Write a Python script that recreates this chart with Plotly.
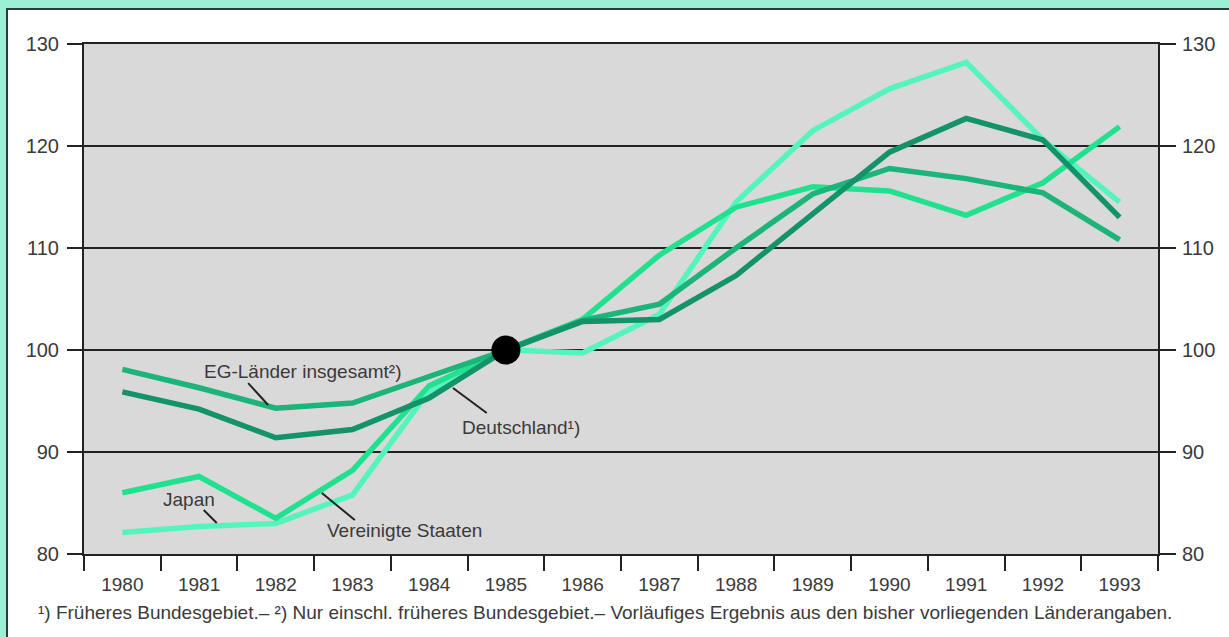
import plotly.graph_objects as go

years = list(range(1980, 1994))
deutschland = [95.9, 94.2, 91.4, 92.2, 95.3, 100.0, 102.8, 103.0, 107.3, 113.3, 119.4, 122.7, 120.6, 113.0]
eg_laender = [98.1, 96.3, 94.3, 94.8, 97.4, 100.0, 102.9, 104.5, 110.0, 115.3, 117.8, 116.8, 115.4, 110.8]
japan = [82.1, 82.7, 83.0, 85.8, 96.0, 100.0, 99.7, 103.5, 114.5, 121.5, 125.6, 128.2, 120.6, 114.5]
usa = [86.0, 87.6, 83.5, 88.2, 96.5, 100.0, 103.0, 109.3, 114.0, 116.0, 115.6, 113.2, 116.4, 121.9]

base_year = [1985]
base_value = [100]

y_ticks = [80, 90, 100, 110, 120, 130]
x_tick_labels = [str(y) for y in years]

footnote = ("¹) Früheres Bundesgebiet.– ²) Nur einschl. früheres Bundesgebiet.– "
            "Vorläufiges Ergebnis aus den bisher vorliegenden Länderangaben.")

W, H = 1229, 637
L, R, T, B = 84, 1158, 44, 554


def px2x(px):
    return (px - L) / (R - L)


def py2y(py):
    return (B - py) / (B - T)


FONT = "Liberation Sans, Arial, Helvetica, sans-serif"
TXT = "#3a3a3a"

fig = go.Figure()
series = [
    ("Japan", japan, "#55f4bd"),
    ("Vereinigte Staaten", usa, "#22e18e"),
    ("EG-Länder insgesamt", eg_laender, "#1cb479"),
    ("Deutschland", deutschland, "#14926a"),
]
for name, vals, col in series:
    fig.add_trace(go.Scatter(x=years, y=vals, mode="lines", name=name,
                             line=dict(color=col, width=5.5), showlegend=False))

fig.add_trace(go.Scatter(x=base_year, y=base_value, mode="markers",
                         marker=dict(color="black", size=29), showlegend=False))
# invisible trace for the right-hand axis
fig.add_trace(go.Scatter(x=base_year, y=base_value, yaxis="y2", mode="markers",
                         marker=dict(opacity=0), showlegend=False, hoverinfo="skip"))

axis_font = dict(family=FONT, size=19, color=TXT)
yfont = dict(family=FONT, size=20, color=TXT)

fig.update_layout(
    width=W, height=H,
    margin=dict(l=L, r=W - R, t=T, b=H - B),
    paper_bgcolor="white",
    plot_bgcolor="#d9d9d9",
    xaxis=dict(range=[1979.5, 1993.5], tickvals=years, ticktext=x_tick_labels,
               ticks="outside", ticklen=12, tickcolor="rgba(0,0,0,0)",
               minor=dict(tickvals=[y - 0.5 for y in years] + [1993.5], ticks="outside",
                          ticklen=15, tickwidth=2, tickcolor="#222", showgrid=False),
               showgrid=False, zeroline=False, showline=True, linecolor="#222",
               linewidth=2, mirror=True, tickfont=axis_font),
    yaxis=dict(range=[80, 130], tickvals=y_ticks, ticks="outside", ticklen=15,
               tickwidth=2, tickcolor="#222", showgrid=True, gridcolor="#222",
               gridwidth=2, zeroline=False, showline=True, linecolor="#222",
               linewidth=2, tickfont=yfont, ticklabelstandoff=4),
    yaxis2=dict(range=[80, 130], tickvals=y_ticks, overlaying="y", side="right",
                ticks="outside", ticklen=16, tickwidth=2, tickcolor="#222",
                showgrid=False, zeroline=False, showline=True, linecolor="#222",
                linewidth=2, tickfont=yfont, ticklabelstandoff=2),
)

# series labels
labels = [
    ("EG-Länder insgesamt²)", 1982.35, 97.85, (1981.64, 96.76), (1981.90, 94.61)),
    ("Deutschland¹)", 1985.2, 92.45, (1984.31, 96.27), (1984.75, 93.82)),
    ("Japan", 1980.87, 85.3, (1981.06, 84.31), (1981.23, 83.04)),
    ("Vereinigte Staaten", 1983.68, 82.35, (1982.60, 85.98), (1983.03, 83.33)),
]
for text, tx, ty, p0, p1 in labels:
    fig.add_annotation(x=tx, y=ty, text=text, showarrow=False,
                       font=dict(family=FONT, size=19, color=TXT))
    fig.add_shape(type="line", x0=p0[0], y0=p0[1], x1=p1[0], y1=p1[1],
                  line=dict(color="#222", width=2))

fig.add_annotation(xref="paper", yref="paper", x=px2x(36), y=py2y(612),
                   xanchor="left", yanchor="middle", showarrow=False, text=footnote,
                   font=dict(family=FONT, size=19, color=TXT))

# frame
MINT = "#9cefd5"
DARK = "#2b3b35"
fig.add_shape(type="rect", xref="paper", yref="paper", x0=px2x(-2), x1=px2x(6),
              y0=py2y(H + 2), y1=py2y(-2), fillcolor=MINT, line_width=0, layer="above")
fig.add_shape(type="rect", xref="paper", yref="paper", x0=px2x(-2), x1=px2x(W + 2),
              y0=py2y(8), y1=py2y(-2), fillcolor=MINT, line_width=0, layer="above")
fig.add_shape(type="rect", xref="paper", yref="paper", x0=px2x(6), x1=px2x(8),
              y0=py2y(H + 2), y1=py2y(8), fillcolor=DARK, line_width=0, layer="above")
fig.add_shape(type="rect", xref="paper", yref="paper", x0=px2x(6), x1=px2x(W + 2),
              y0=py2y(10), y1=py2y(8), fillcolor=DARK, line_width=0, layer="above")

fig.write_html("out.html", config={"displayModeBar": False},
               post_script="document.body.style.margin='0px';document.body.style.overflow='hidden';")
